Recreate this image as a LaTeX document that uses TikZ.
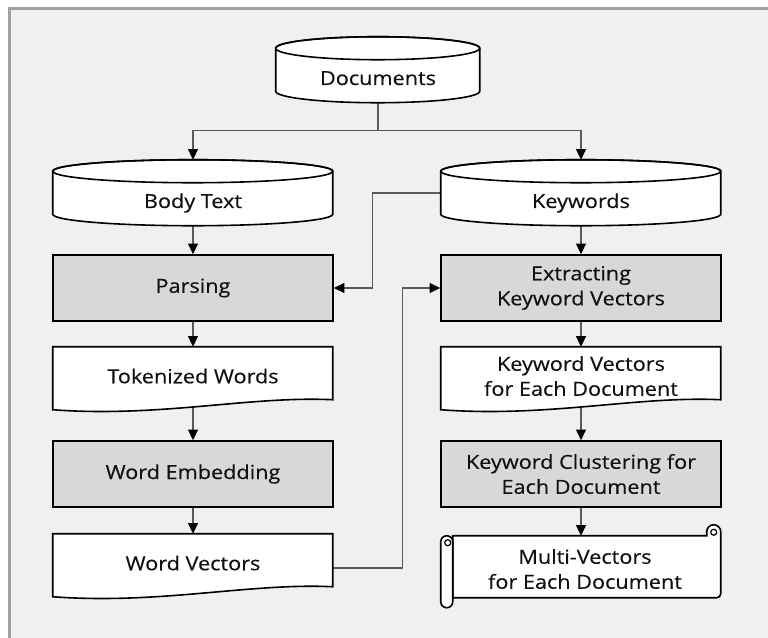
\documentclass[tikz,border=0pt]{standalone}
\usepackage{fontspec}
\setmainfont[FakeStretch=1.12, FakeBold=0.35]{Open Sans}
\usetikzlibrary{arrows.meta}
\pgfdeclarelayer{bg}
\pgfdeclarelayer{outline}
\pgfsetlayers{bg,outline,main}
\definecolor{paper}{HTML}{F0F0F0}
\definecolor{frame}{HTML}{A0A0A0}
\definecolor{procfill}{HTML}{D8D8D8}
\definecolor{wiregray}{HTML}{5A5A5A}
\definecolor{ink}{HTML}{111111}
\tikzstyle{txt}=[font=\fontsize{14.5}{18.75}\selectfont, text=ink, align=center, inner sep=0pt]
\tikzstyle{edge}=[draw=black, line width=1.2pt]
\tikzstyle{db}=[txt, minimum width=210pt, minimum height=49.5pt, text height=22.5pt, text depth=0pt]
\tikzstyle{proc}=[txt, edge, fill=procfill, minimum width=210pt, minimum height=49.5pt]
\tikzstyle{paper doc}=[txt, minimum width=210pt, minimum height=43.5pt]
\tikzstyle{wire}=[draw=wiregray, line width=0.8pt]
\tikzstyle{arr}=[wire, -{Triangle[length=8pt, width=7.5pt, color=black]}]

\begin{document}
\begin{tikzpicture}[x=0.75pt, y=-0.75pt]
    \useasboundingbox (0,0) rectangle (768,638);

    % texts
    \node [db, minimum width=153pt] (docs) at (378,70) {Documents};
    \node [db] (body) at (193,193) {Body Text};
    \node [db] (keys) at (581,193) {Keywords};
    \node [proc] (parsing) at (193,288) {Parsing};
    \node [proc] (extract) at (581,288) {Extracting\\Keyword Vectors};
    \node [paper doc] (tok) at (193,376) {Tokenized Words};
    \node [paper doc] (kv) at (581,376) {Keyword Vectors\\for Each Document};
    \node [proc] (embed) at (193,474) {Word Embedding};
    \node [proc] (clus) at (581,474) {Keyword Clustering for\\Each Document};
    \node [paper doc] (wv) at (193,563) {Word Vectors};
    \node [txt, minimum width=204pt, minimum height=49.5pt] (multi) at (585,569) {Multi-Vectors\\for Each Document};

    % shapes behind the texts
    \begin{pgfonlayer}{outline}
        \foreach \n/\w in {docs/204, body/280, keys/280} {
            \begin{scope}[shift={(\n.north west)}]
                \draw [edge, fill=white] (0,11.5) -- (0,54.5)
                    arc [start angle=180, end angle=0, x radius=\w/2, y radius=11.5]
                    -- (\w,11.5)
                    arc [start angle=0, end angle=-180, x radius=\w/2, y radius=11.5] -- cycle;
                \draw [edge] (\w/2,11.5) ellipse [x radius=\w/2, y radius=11.5];
            \end{scope}
        }
        \foreach \n in {tok, kv, wv} {
            \begin{scope}[shift={(\n.north west)}]
                \draw [edge, fill=white] (0,0) -- (280,0) -- (280,53)
                    .. controls +(-83,-4) and +(107,8) .. (0,63) -- cycle;
            \end{scope}
        }
        \begin{scope}[shift={(multi.north west)}]
            \draw [edge, fill=white] (4,0) -- (258,0) -- (258,-4)
                arc [start angle=180, end angle=360, radius=7] -- (272,58)
                arc [start angle=0, end angle=90, radius=4] -- (4,62) -- cycle;
            \draw [edge, line width=0.9pt] (265,-3.5) circle [radius=3];
            \draw [edge, fill=white] (-8,6) -- (-8,66)
                arc [start angle=180, end angle=0, radius=6] -- (4,6)
                arc [start angle=0, end angle=-180, radius=6] -- cycle;
            \draw [edge, line width=0.9pt] (-1,7) circle [radius=3];
        \end{scope}
    \end{pgfonlayer}

    \begin{pgfonlayer}{bg}
        \fill [white] (0,0) rectangle (768,638);
        \fill [paper] (9,8) rectangle (768,638);
        \draw [frame, line width=2.25pt] (9.5,638) -- (9.5,8.5) -- (768,8.5);

        \draw [wire] (docs.south) -- ++(0,27) coordinate (fork);
        \draw [arr] (fork) -| (body.north);
        \draw [arr] (fork) -| (keys.north);
        \draw [arr] (body.south) -- (parsing.north);
        \draw [arr] (parsing.south) -- (tok.north);
        \draw [arr] (tok.south) -- (embed.north);
        \draw [arr] (embed.south) -- (wv.north);
        \draw [arr] (keys.south) -- (extract.north);
        \draw [arr] (extract.south) -- (kv.north);
        \draw [arr] (kv.south) -- (clus.north);
        \draw [arr] (clus.south) -- (clus.south |- multi.north);
        \draw [arr] (keys.west) -- ++(-68,0) |- (parsing.east);
        \draw [arr] ([yshift=-3.75pt]wv.east) -- ++(69,0) |- (extract.west);
    \end{pgfonlayer}
\end{tikzpicture}
\end{document}
